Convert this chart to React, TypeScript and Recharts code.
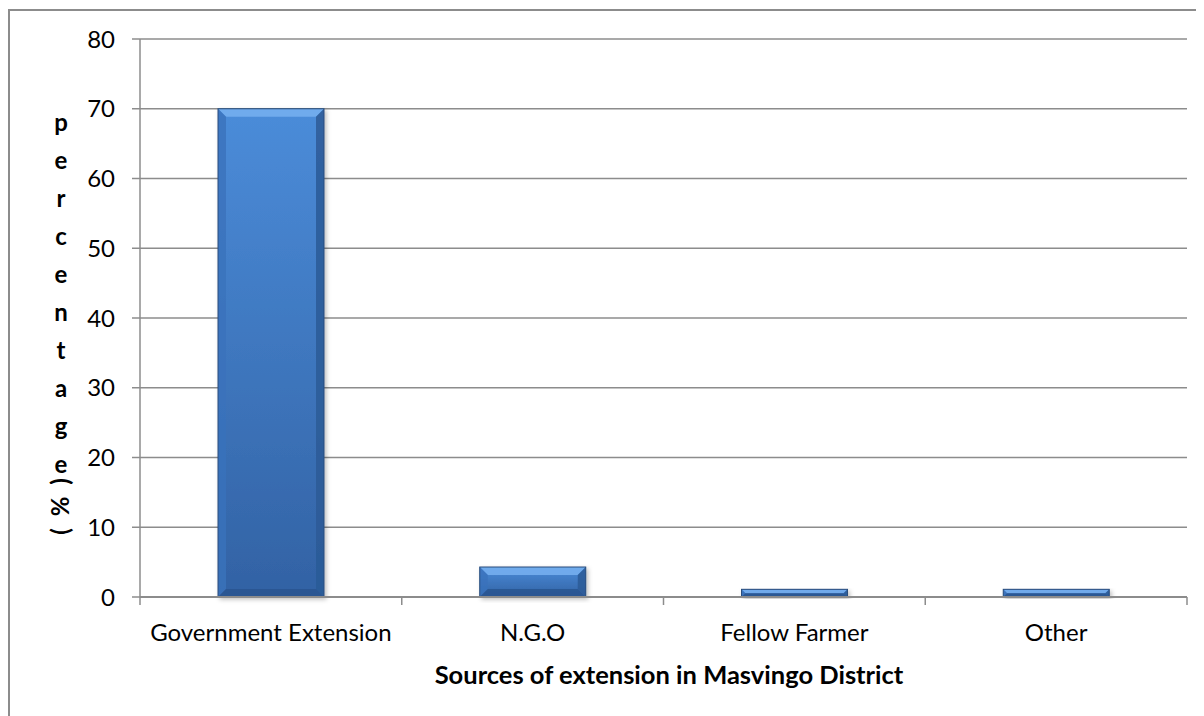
import React from 'react'
import { BarChart, Bar, XAxis, YAxis, CartesianGrid } from 'recharts'

const categories = ['Government Extension', 'N.G.O', 'Fellow Farmer', 'Other']
const percentages = [70, 4.3, 1.1, 1.1]
const yTicks = [0, 10, 20, 30, 40, 50, 60, 70, 80]
const yLabelLetters = ['p', 'e', 'r', 'c', 'e', 'n', 't', 'a', 'g', 'e']

const data = categories.map((name, i) => ({ name, value: percentages[i] }))

const FONT = 'Lato, "Open Sans", sans-serif'
const GRID = '#8c8c8c'

// bevelled bar like the office "soft edge" style
const BevelBar = (props: any) => {
  const { x, y, width, height } = props
  if (!height || height <= 0) return null
  const b = Math.min(8, height / 2, width / 2)
  const r = x + width
  const bot = y + height
  return (
    <g filter="url(#barShadow)">
      <rect x={x} y={y} width={width} height={height} fill="url(#barFill)" />
      <polygon points={`${x},${y} ${r},${y} ${r - b},${y + b} ${x + b},${y + b}`} fill="#74aeee" opacity={0.9} />
      <polygon points={`${x},${y} ${x + b},${y + b} ${x + b},${bot - b} ${x},${bot}`} fill="#3a72bb" opacity={0.8} />
      <polygon points={`${r},${y} ${r - b},${y + b} ${r - b},${bot - b} ${r},${bot}`} fill="#2c5a97" opacity={0.85} />
      <polygon points={`${x},${bot} ${x + b},${bot - b} ${r - b},${bot - b} ${r},${bot}`} fill="#2a558f" opacity={0.85} />
      <rect x={x} y={y} width={width} height={height} fill="none" stroke="#2a4d7c" strokeWidth={1} />
    </g>
  )
}

const CategoryTick = (props: any) => {
  const { x, y, payload, index, visibleTicksCount } = props
  const half = payload.offset ?? 1047 / 8
  return (
    <g>
      <line x1={x - half} x2={x - half} y1={y} y2={y + 8} stroke={GRID} strokeWidth={1.5} />
      {index === visibleTicksCount - 1 && (
        <line x1={x + half} x2={x + half} y1={y} y2={y + 8} stroke={GRID} strokeWidth={1.5} />
      )}
      <text x={x} y={y + 44} textAnchor="middle" fontFamily={FONT} fontSize={24} fill="#000">
        {payload.value}
      </text>
    </g>
  )
}

const XTitle = () => (
  <text x={659} y={673} textAnchor="middle" fontFamily={FONT} fontSize={25.5} fontWeight="bold" fill="#000">
    Sources of extension in Masvingo District
  </text>
)

const YTitle = () => (
  <g fontFamily={FONT} fontSize={24} fontWeight="bold" fill="#000">
    <text x={51} y={120} textAnchor="middle">
      {yLabelLetters.map((ch, i) => (
        <tspan key={i} x={51} dy={i === 0 ? 0 : 38}>
          {ch}
        </tspan>
      ))}
    </text>
    <text
      x={49}
      y={494}
      textAnchor="middle"
      dominantBaseline="central"
      letterSpacing={3}
      transform="rotate(-90 49 494)"
    >
      ( % )
    </text>
  </g>
)

export default function App() {
  return (
    <div
      style={{
        width: 1200,
        height: 712,
        marginTop: 1,
        borderLeft: '2px solid #8c8c8c',
        borderTop: '2px solid #8c8c8c',
        boxSizing: 'border-box',
        background: '#fff',
      }}
    >
      <BarChart
        width={1186}
        height={696}
        data={data}
        margin={{ top: 28, right: 9, bottom: 30, left: 0 }}
        barSize={106}
      >
        <defs>
          <linearGradient id="barFill" x1="0" y1="0" x2="0" y2="1">
            <stop offset="0%" stopColor="#4b8cd9" />
            <stop offset="100%" stopColor="#3262a4" />
          </linearGradient>
          <filter id="barShadow" x="-10%" y="-10%" width="130%" height="130%">
            <feDropShadow dx="2" dy="2" stdDeviation="2" floodColor="#000" floodOpacity="0.25" />
          </filter>
        </defs>
        <CartesianGrid vertical={false} stroke={GRID} strokeWidth={1.5} />
        <XAxis
          dataKey="name"
          height={80}
          interval={0}
          tickLine={false}
          tickSize={0}
          tickMargin={0}
          axisLine={{ stroke: GRID, strokeWidth: 2 }}
          tick={<CategoryTick />}
          label={<XTitle />}
        />
        <YAxis
          width={130}
          domain={[0, 80]}
          ticks={yTicks}
          interval={0}
          tickSize={8}
          tickMargin={17}
          axisLine={{ stroke: GRID, strokeWidth: 1.5 }}
          tickLine={{ stroke: GRID, strokeWidth: 1.5 }}
          tick={{ fontFamily: FONT, fontSize: 24, fill: '#000' }}
          label={<YTitle />}
        />
        <Bar dataKey="value" shape={<BevelBar />} isAnimationActive={false} />
      </BarChart>
    </div>
  )
}
